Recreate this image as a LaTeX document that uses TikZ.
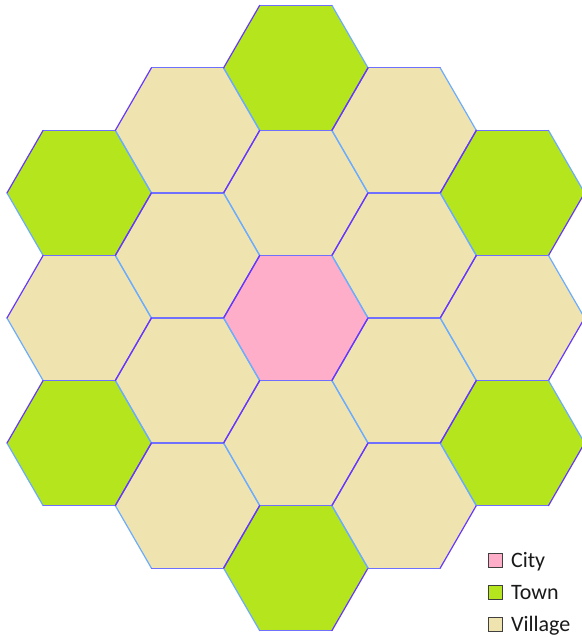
\documentclass[tikz,border=0pt]{standalone}
\usepackage{fontspec}
\setmainfont{Carlito}
\usepackage{tikz}
\usetikzlibrary{positioning}
\definecolor{city}{RGB}{255,174,201}
\definecolor{town}{RGB}{181,230,29}
\definecolor{village}{RGB}{239,228,176}
\definecolor{edgeup}{RGB}{102,56,255}
\definecolor{edgedown}{RGB}{108,172,255}
\definecolor{edgeflat}{RGB}{112,112,255}
\newcommand{\hexR}{72.2}

\begin{document}
\begin{tikzpicture}[
  x=1pt,y=1pt,
  hexedge/.style={line width=1.2pt,line cap=round},
  key/.style={draw=black!75,line width=0.8pt,minimum size=14pt,inner sep=0pt},
  keytext/.style={inner sep=0pt,text height=14.2pt,text depth=0pt,text=black!90,font=\fontsize{22}{26}\selectfont},
]
\useasboundingbox (-295.8,-319) rectangle (285.2,318);

% cells: city in the middle, towns on the corners of the outer ring
\foreach \q in {-2,...,2}{
  \foreach \r in {-2,...,2}{
    \pgfmathtruncatemacro\ring{max(abs(\q),abs(\r),abs(\q+\r))}
    \pgfmathtruncatemacro\axis{(\q==0)||(\r==0)||(\q+\r==0)}
    \ifnum\ring<3
      \def\cellcol{village}
      \ifnum\ring=0 \def\cellcol{city}\fi
      \ifnum\ring=2 \ifnum\axis=1 \def\cellcol{town}\fi\fi
      \coordinate (cell) at ({1.5*\hexR*\q},{-1.7320508*\hexR*(\r+\q/2)});
      \fill[\cellcol] (cell) +(0:\hexR) -- +(60:\hexR) -- +(120:\hexR)
        -- +(180:\hexR) -- +(240:\hexR) -- +(300:\hexR) -- cycle;
    \fi
  }
}

% cell borders
\foreach \q in {-2,...,2}{
  \foreach \r in {-2,...,2}{
    \pgfmathtruncatemacro\ring{max(abs(\q),abs(\r),abs(\q+\r))}
    \ifnum\ring<3
      \coordinate (cell) at ({1.5*\hexR*\q},{-1.7320508*\hexR*(\r+\q/2)});
      \draw[hexedge,edgedown] (cell) +(0:\hexR) -- +(60:\hexR) +(180:\hexR) -- +(240:\hexR);
      \draw[hexedge,edgeflat] (cell) +(60:\hexR) -- +(120:\hexR) +(240:\hexR) -- +(300:\hexR);
      \draw[hexedge,edgeup] (cell) +(120:\hexR) -- +(180:\hexR) +(300:\hexR) -- +(360:\hexR);
    \fi
  }
}

% legend
\node[key,fill=city] (keycity) at (199.7,-242) {};
\node[key,fill=town,below=18pt of keycity] (keytown) {};
\node[key,fill=village,below=17pt of keytown] (keyvillage) {};
\node[keytext,right=8pt of keycity] (labcity) {City};
\node[keytext,right=8pt of keytown] (labtown) {Town};
\node[keytext,right=8pt of keyvillage] (labvillage) {Village};
\end{tikzpicture}
\end{document}
